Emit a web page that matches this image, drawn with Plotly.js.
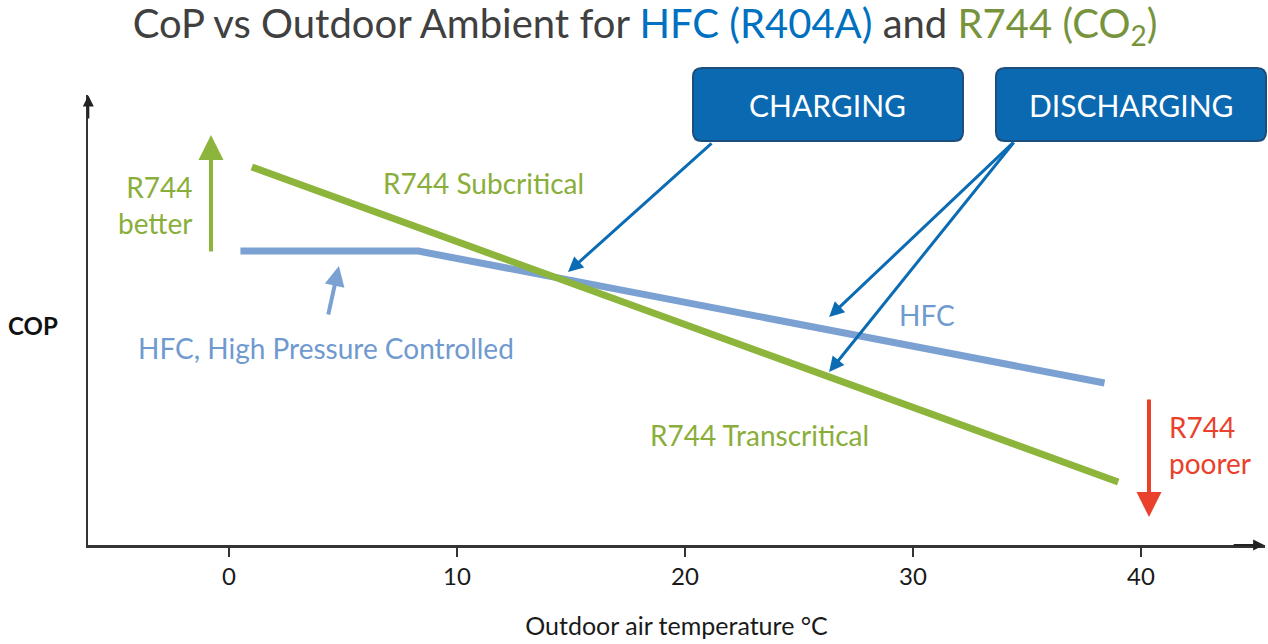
<!DOCTYPE html>
<html>
<head>
<meta charset="utf-8">
<script src="https://cdn.plot.ly/plotly-3.0.1.min.js"></script>
<style>html,body{margin:0;padding:0;background:#fff;}#chart{width:1268px;height:644px;}</style>
</head>
<body>
<div id="chart"></div>
<script>
// ---- data (COP in arbitrary units) ----
const tempR744 = [1, 39];
const copR744 = [7.56, 1.26];
const tempHFC = [0.5, 8.3, 38.4];
const copHFC = [5.88, 5.88, 3.24];
const xTicks = [0, 10, 20, 30, 40];
const xTickLabels = ['0', '10', '20', '30', '40'];

const GREEN = '#8db53c', GREEN_T = '#8aae3a', BLUE = '#7ba1d2', BLUE_T = '#6f9acf';
const DBLUE = '#0b6cb4', RED = '#e9412b';
const FONT = 'Lato, "Open Sans", sans-serif';

// plot-area geometry helpers for boxes drawn in paper coordinates
const L = 88, R = 1265, T = 95, B = 545;
const px2pxX = p => (p - L) / (R - L);
const px2pxY = p => (B - p) / (B - T);
function rrect(x0, y0, x1, y1, r) {
  const X = px2pxX, Y = px2pxY;
  return `M${X(x0 + r)},${Y(y0)} L${X(x1 - r)},${Y(y0)} Q${X(x1)},${Y(y0)} ${X(x1)},${Y(y0 + r)} ` +
    `L${X(x1)},${Y(y1 - r)} Q${X(x1)},${Y(y1)} ${X(x1 - r)},${Y(y1)} L${X(x0 + r)},${Y(y1)} ` +
    `Q${X(x0)},${Y(y1)} ${X(x0)},${Y(y1 - r)} L${X(x0)},${Y(y0 + r)} Q${X(x0)},${Y(y0)} ${X(x0 + r)},${Y(y0)} Z`;
}

const traces = [
  {x: tempHFC, y: copHFC, mode: 'lines', line: {color: BLUE, width: 7}, hoverinfo: 'skip', name: 'HFC'},
  {x: tempR744, y: copR744, mode: 'lines', line: {color: GREEN, width: 7}, hoverinfo: 'skip', name: 'R744'}
];

function arrow(x, y, ax, ay, color, w, size, head) {
  return {x, y, ax, ay, xref: 'x', yref: 'y', axref: 'x', ayref: 'y', text: '', showarrow: true,
    arrowcolor: color, arrowwidth: w, arrowsize: size, arrowhead: head};
}
function txt(text, x, y, color, size, xanchor, align, extra) {
  return Object.assign({text, x, y, xref: 'x', yref: 'y', showarrow: false, xanchor: xanchor || 'center',
    yanchor: 'middle', align: align || 'center', font: {family: FONT, size: size, color: color}}, extra || {});
}

const annotations = [
  // axis arrow heads
  arrow(45.4, 0, 44.0, 0, '#222', 2, 1.1, 2),
  arrow(-6.17, 8.99, -6.17, 8.5, '#222', 2, 1.1, 2),
  // charging / discharging pointers
  arrow(14.87, 5.46, 21.23, 8.06, DBLUE, 3, 1, 2),
  arrow(26.32, 4.56, 34.47, 8.08, DBLUE, 3, 1, 2),
  arrow(26.32, 3.46, 34.47, 8.08, DBLUE, 3, 1, 2),
  // small HFC pointer
  arrow(4.82, 5.58, 4.34, 4.58, BLUE, 4, 1, 2),
  // better / poorer arrows
  arrow(-0.79, 8.2, -0.79, 5.84, '#8db53c', 4, 1.25, 2),
  arrow(40.35, 0.56, 40.35, 2.94, RED, 4, 1.25, 2),
  // labels
  txt('R744<br>better', -1.54, 6.8, GREEN_T, 28, 'right', 'right'),
  txt('R744 Subcritical', 11.18, 7.24, GREEN_T, 28),
  txt('HFC, High Pressure Controlled', -4.08, 3.94, BLUE_T, 28, 'left', 'left'),
  txt('HFC', 29.3, 4.6, BLUE_T, 28, 'left', 'left'),
  txt('R744 Transcritical', 18.38, 2.2, GREEN_T, 28, 'left', 'left'),
  txt('R744<br>poorer', 41.14, 2.0, RED, 28, 'left', 'left'),
  txt('CHARGING', 26.27, 8.8, '#ffffff', 30),
  txt('DISCHARGING', 39.56, 8.8, '#ffffff', 30),
  {text: '<b>COP</b>', x: px2pxX(33), y: px2pxY(325), xref: 'paper', yref: 'paper', showarrow: false,
    xanchor: 'center', yanchor: 'middle', font: {family: FONT, size: 24, color: '#111'}}
];

const shapes = [
  {type: 'path', xref: 'paper', yref: 'paper', path: rrect(693, 68, 963, 141, 9),
    fillcolor: '#0a69b1', line: {color: '#1d4d7a', width: 2}, layer: 'above'},
  {type: 'path', xref: 'paper', yref: 'paper', path: rrect(996, 68, 1266, 141, 9),
    fillcolor: '#0a69b1', line: {color: '#1d4d7a', width: 2}, layer: 'above'}
];

const layout = {
  width: 1268, height: 644,
  margin: {l: L, r: 1268 - R, t: T, b: 644 - B},
  paper_bgcolor: '#fff', plot_bgcolor: '#fff',
  showlegend: false,
  title: {
    text: 'CoP vs Outdoor Ambient for <span style="color:#0070c0">HFC (R404A)</span> and <span style="color:#77933c">R744 (CO<sub>2</sub>)</span>',
    x: 645 / 1268, xanchor: 'center', xref: 'container',
    y: 1 - 24 / 644, yanchor: 'middle', yref: 'container',
    font: {family: FONT, size: 40, color: '#404040'}
  },
  xaxis: {
    range: [(L - 229) / 22.8, (R - 229) / 22.8],
    tickvals: xTicks, ticktext: xTickLabels,
    ticks: 'outside', ticklen: 9, tickwidth: 2, tickcolor: '#333',
    showline: true, linecolor: '#333', linewidth: 2.5,
    showgrid: false, zeroline: false,
    tickfont: {family: FONT, size: 24, color: '#1a1a1a'},
    title: {text: 'Outdoor air temperature °C', standoff: 28, font: {family: FONT, size: 25, color: '#1a1a1a'}},
    fixedrange: true
  },
  yaxis: {
    range: [0, 9], showticklabels: false, ticks: '',
    showline: true, linecolor: '#333', linewidth: 2,
    showgrid: false, zeroline: false, fixedrange: true
  },
  annotations, shapes
};

Plotly.newPlot('chart', traces, layout, {displayModeBar: false, staticPlot: true});
</script>
</body>
</html>
